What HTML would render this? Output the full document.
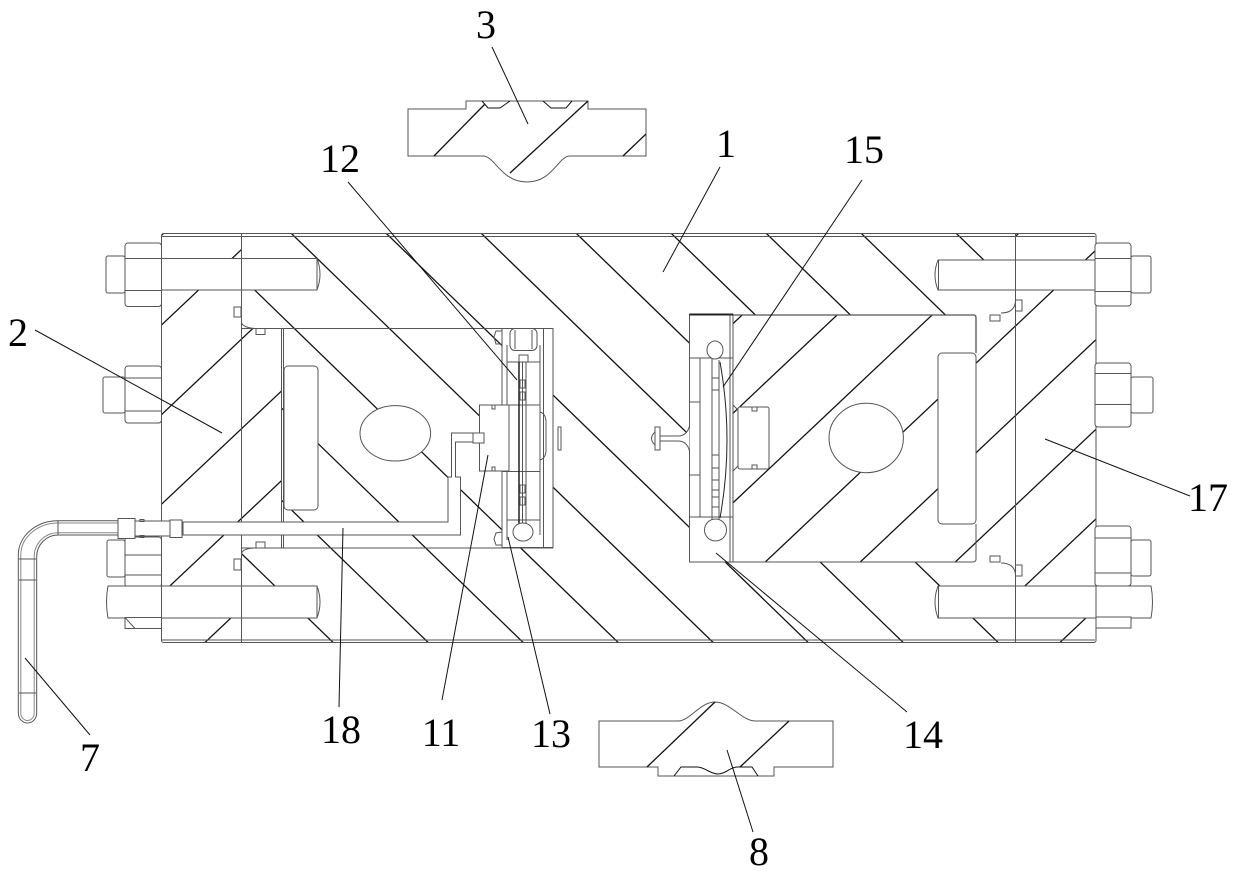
<!DOCTYPE html>
<html><head><meta charset="utf-8"><style>
html,body{margin:0;padding:0;background:#fff;}
svg{display:block;}
text{font-family:"Liberation Serif",serif;font-size:40px;fill:#000;}
</style></head><body>
<svg width="1240" height="875" viewBox="0 0 1240 875" xmlns="http://www.w3.org/2000/svg">
<defs>
<clipPath id="cb"><path clip-rule="evenodd" d="M161.5,234H1096V643H161.5Z M161.5,234 L241.5,234 L241.5,328.5 L281.5,328.5 L281.5,548 L241.5,548 L241.5,643 L161.5,643 Z M1015.5,234 L1096,234 L1096,643 L1015.5,643 L1015.5,586 L976,586 L976,562 L733,562 L733,315 L976,315 L976,290 L1015.5,290 Z"/></clipPath>
<clipPath id="cs"><path d="M161.5,234 L241.5,234 L241.5,328.5 L281.5,328.5 L281.5,548 L241.5,548 L241.5,643 L161.5,643 Z M1015.5,234 L1096,234 L1096,643 L1015.5,643 L1015.5,586 L976,586 L976,562 L733,562 L733,315 L976,315 L976,290 L1015.5,290 Z"/></clipPath>
</defs>
<rect width="1240" height="875" fill="#fff"/>

<!-- backslash hatch (body 1) -->
<g clip-path="url(#cb)" stroke="#111" stroke-width="1.3">
<line x1="-187.2" y1="230" x2="245.9" y2="650"/>
<line x1="-92.2" y1="230" x2="340.9" y2="650"/>
<line x1="2.8" y1="230" x2="435.9" y2="650"/>
<line x1="97.8" y1="230" x2="530.9" y2="650"/>
<line x1="192.8" y1="230" x2="625.9" y2="650"/>
<line x1="287.8" y1="230" x2="720.9" y2="650"/>
<line x1="382.8" y1="230" x2="815.9" y2="650"/>
<line x1="477.8" y1="230" x2="910.9" y2="650"/>
<line x1="572.8" y1="230" x2="1005.9" y2="650"/>
<line x1="667.8" y1="230" x2="1100.9" y2="650"/>
<line x1="762.8" y1="230" x2="1195.9" y2="650"/>
<line x1="857.8" y1="230" x2="1290.9" y2="650"/>
<line x1="952.8" y1="230" x2="1385.9" y2="650"/>
<line x1="1047.8" y1="230" x2="1480.9" y2="650"/>
</g>
<!-- slash hatch (parts 2 and 17) -->
<g clip-path="url(#cs)" stroke="#111" stroke-width="1.3">
<line x1="167.2" y1="230" x2="-278" y2="650"/>
<line x1="262.2" y1="230" x2="-183" y2="650"/>
<line x1="357.2" y1="230" x2="-88" y2="650"/>
<line x1="452.2" y1="230" x2="7" y2="650"/>
<line x1="547.2" y1="230" x2="102" y2="650"/>
<line x1="642.2" y1="230" x2="197" y2="650"/>
<line x1="737.2" y1="230" x2="292" y2="650"/>
<line x1="832.2" y1="230" x2="387" y2="650"/>
<line x1="927.2" y1="230" x2="482" y2="650"/>
<line x1="1022.2" y1="230" x2="577" y2="650"/>
<line x1="1117.2" y1="230" x2="672" y2="650"/>
<line x1="1212.2" y1="230" x2="767" y2="650"/>
<line x1="1307.2" y1="230" x2="862" y2="650"/>
<line x1="1402.2" y1="230" x2="957" y2="650"/>
<line x1="1497.2" y1="230" x2="1052" y2="650"/>
</g>

<g stroke="#555" stroke-width="1" fill="#fff">
<!-- body outline -->
<rect x="161.5" y="233.5" width="934.5" height="409" rx="2" fill="none"/>
<line x1="162" y1="236.5" x2="1095" y2="236.5"/>
<line x1="162" y1="640" x2="1095" y2="640"/>

<!-- left bolts and nuts -->
<path d="M161.5,258.5 H317 Q323,274 317,290 H161.5 Z"/>
<line x1="317" y1="258.5" x2="317" y2="290"/>
<rect x="125" y="243" width="36.5" height="63.5" rx="3"/>
<line x1="125" y1="258.5" x2="161.5" y2="258.5"/><line x1="125" y1="290.5" x2="161.5" y2="290.5"/>
<rect x="106" y="256" width="19" height="37" rx="2"/>

<rect x="125" y="366" width="36.5" height="57" rx="3"/>
<line x1="125" y1="378" x2="161.5" y2="378"/><line x1="125" y1="411" x2="161.5" y2="411"/>
<rect x="103" y="377" width="22" height="36" rx="2"/>

<rect x="125" y="537" width="36.5" height="50" rx="3"/>
<line x1="125" y1="555" x2="161.5" y2="555"/><line x1="125" y1="575" x2="161.5" y2="575"/>
<rect x="107" y="540" width="18" height="37" rx="2"/>

<path d="M108,586 H317 Q323,602 317,618 H108 Q105,602 108,586 Z"/>
<line x1="317" y1="586" x2="317" y2="618"/>
<line x1="161.5" y1="586" x2="161.5" y2="618"/>
<rect x="125" y="617.5" width="36.5" height="11"/>
<line x1="125" y1="617.5" x2="135" y2="628.5"/>

<!-- right bolts and nuts -->
<path d="M938,260 H1096 V290 H938 Q932,275 938,260 Z"/>
<line x1="938.5" y1="260" x2="938.5" y2="290"/>
<rect x="1095" y="243" width="36" height="63" rx="3"/>
<line x1="1095" y1="258.5" x2="1131" y2="258.5"/><line x1="1095" y1="291.5" x2="1131" y2="291.5"/>
<rect x="1131" y="256" width="20" height="37" rx="2"/>

<rect x="1095" y="363" width="36" height="64" rx="3"/>
<line x1="1095" y1="373.5" x2="1131" y2="373.5"/><line x1="1095" y1="404.5" x2="1131" y2="404.5"/>
<rect x="1131" y="377" width="22" height="36" rx="2"/>

<rect x="1095" y="526" width="36" height="60" rx="3"/>
<line x1="1095" y1="538" x2="1131" y2="538"/><line x1="1095" y1="573" x2="1131" y2="573"/>
<rect x="1131" y="540" width="20" height="36" rx="2"/>

<path d="M938,586 H1151 Q1154,602 1151,618 H938 Q932,602 938,586 Z"/>
<line x1="938.5" y1="586" x2="938.5" y2="618"/>
<line x1="1096" y1="586" x2="1096" y2="618"/>
<rect x="1096" y="617" width="35" height="11"/>

<!-- end plate boundaries -->
<line x1="241.5" y1="234" x2="241.5" y2="643" fill="none"/>
<line x1="1015.5" y1="234" x2="1015.5" y2="643" fill="none"/>

<!-- left cell -->
<line x1="241.5" y1="328.5" x2="553" y2="328.5"/>
<line x1="241.5" y1="548" x2="553" y2="548"/>
<line x1="281.5" y1="328.5" x2="281.5" y2="548"/>
<line x1="283.5" y1="328.5" x2="283.5" y2="548"/>
<rect x="284" y="366" width="34" height="144" rx="4"/>
<ellipse cx="395.3" cy="433.3" rx="35.3" ry="27.7"/>
<path d="M183,522 L448,522 L448,477 L451.5,477 L451.5,433 L473,433 L473,442 L455.5,442 L455.5,477 L460.5,477 L460.5,535 L183,535 Z"/>
<rect x="234" y="307" width="7" height="10" fill="none"/>
<rect x="256" y="328.5" width="9" height="6" fill="none"/>
<rect x="256" y="542" width="9" height="6" fill="none"/>
<rect x="234" y="559" width="7" height="11" fill="none"/>
<path d="M241.5,323 Q244,328 256,328.5" fill="none"/>
<path d="M241.5,553 Q244,548 256,548" fill="none"/>

<!-- left sensor housing -->
<rect x="502" y="328.5" width="51" height="219"/>
<line x1="507" y1="345" x2="507" y2="540"/>
<line x1="540" y1="345" x2="540" y2="535"/>
<line x1="543.5" y1="328.5" x2="543.5" y2="547.5"/>
<rect x="510" y="328.5" width="27" height="22" rx="5"/>
<line x1="515" y1="330" x2="515" y2="349"/><line x1="532" y1="330" x2="532" y2="349"/>
<line x1="507" y1="362" x2="540" y2="362"/>
<line x1="502" y1="405" x2="540" y2="405"/>
<line x1="502" y1="471.5" x2="540" y2="471.5"/>
<line x1="507" y1="520" x2="540" y2="520"/>
<rect x="519" y="355" width="9" height="7"/>
<line x1="519" y1="362" x2="519" y2="525" stroke="#222" stroke-width="1.5"/>
<line x1="522.5" y1="362" x2="522.5" y2="525"/>
<line x1="526" y1="362" x2="526" y2="525"/>
<rect x="520" y="380" width="5" height="8" fill="none"/>
<rect x="520" y="392" width="5" height="8" fill="none"/>
<rect x="520" y="485" width="5" height="8" fill="none"/>
<rect x="520" y="497" width="5" height="8" fill="none"/>
<path d="M540,412 Q546,414 546,422 L546,450 Q546,458 540,460" fill="none"/>
<ellipse cx="523" cy="532" rx="10" ry="9"/>
<rect x="558" y="427" width="3" height="23" fill="none"/>
<path d="M502,331 L496,331 L494,337 L496,344 L502,344" fill="none"/>
<path d="M502,532 L496,533 L494,539 L496,545 L502,545" fill="none"/>
<rect x="479.5" y="405" width="29.5" height="66"/>
<rect x="492" y="405" width="3" height="4" fill="none"/>
<rect x="492" y="467" width="3" height="4" fill="none"/>
<rect x="473" y="433" width="11" height="10"/>
<line x1="509" y1="405" x2="509" y2="471.5"/>

<!-- right cell -->
<path d="M733,315 L974,315 Q976,315 976,318 L976,353" fill="none" stroke-width="1.3"/>
<path d="M976,524 L976,559 Q976,562 973,562 L733,562" fill="none"/>
<rect x="938" y="353" width="38" height="171" rx="4"/>
<ellipse cx="866.2" cy="438" rx="37.2" ry="34.7"/>
<rect x="990" y="315" width="10" height="6" fill="none"/>
<rect x="1015.5" y="300" width="6.5" height="11" fill="none"/>
<rect x="990" y="556" width="10" height="6" fill="none"/>
<rect x="1015.5" y="565" width="6.5" height="11" fill="none"/>
<path d="M1001,313 Q1014,313 1015.5,302" fill="none"/>
<path d="M1001,563 Q1014,563 1015.5,574" fill="none"/>

<!-- right sensor -->
<rect x="689.5" y="314.5" width="43.5" height="247.5"/>
<line x1="689.5" y1="314.5" x2="733" y2="314.5" stroke="#222" stroke-width="2"/>
<line x1="700" y1="358" x2="700" y2="517"/>
<line x1="712" y1="355" x2="712" y2="525"/>
<line x1="719" y1="360" x2="719" y2="520"/>
<line x1="730" y1="314.5" x2="730" y2="562"/>
<line x1="689.5" y1="358" x2="733" y2="358"/>
<line x1="689.5" y1="402" x2="700" y2="402"/>
<line x1="689.5" y1="475" x2="700" y2="475"/>
<line x1="689.5" y1="517" x2="733" y2="517"/>
<path d="M720,362 Q734,440 720,518" fill="none" stroke="#222"/>
<rect x="712" y="378" width="7" height="12" fill="none"/>
<rect x="712" y="455" width="7" height="13" fill="none"/>
<rect x="712" y="480" width="7" height="10" fill="none"/>
<rect x="712" y="497" width="7" height="10" fill="none"/>
<ellipse cx="715" cy="350" rx="8" ry="9"/>
<ellipse cx="715.5" cy="530" rx="11" ry="11"/>
<path d="M689.5,426 Q687,436 678,436 L660,436 L660,441 L678,441 Q687,441 689.5,451"/>
<rect x="655" y="427" width="5" height="23"/>
<path d="M655,432 Q648,438.5 655,445" fill="none"/>
<path d="M733,405 L738,410 M733,471 L738,466" fill="none"/>
<rect x="738" y="407" width="31" height="62" rx="2"/>
<rect x="752" y="407" width="5" height="4" fill="none"/>
<rect x="752" y="465" width="5" height="4" fill="none"/>

<!-- cable 7 and fitting -->
<path d="M118,520.7 L58,520.7 A39.7,34.3 0 0 0 18.3,555 L18.3,713 A9.2,10 0 0 0 36.7,713 L36.7,556.7 A21.3,21.7 0 0 1 58,535 L118,535 Z"/>
<path d="M118,523 L58,523 A37.5,32 0 0 0 20.8,555 L20.8,713 A6.7,7.5 0 0 0 34.2,713 L34.2,556.7 A23.8,24 0 0 1 58,532.7 L118,532.7" fill="none" stroke="#888"/>
<line x1="58" y1="521" x2="58" y2="535"/>
<line x1="19" y1="559" x2="36" y2="559"/>
<line x1="19" y1="580" x2="36" y2="580"/>
<line x1="19" y1="693" x2="36" y2="693"/>
<rect x="135" y="521" width="35" height="15"/>
<rect x="140" y="519.5" width="4" height="2" fill="none"/>
<rect x="140" y="535.5" width="4" height="2" fill="none"/>
<rect x="118" y="518.5" width="17" height="20"/>
<rect x="170" y="520" width="12" height="17.5"/>

<!-- part 3 -->
<path d="M408,109 L466,109 L466,101 L588,101 L588,109 L646,109 L646,156 L570,156 C558,156 553,182 527,182 C501,182 495,156 483,156 L408,156 Z"/>
<path d="M482,101 L488,108 L500,108 L510,101" fill="none" stroke="#111"/>
<path d="M543,101 L551,108 L566,108 L572,101" fill="none" stroke="#111"/>

<!-- part 8 -->
<path d="M599,721 L678,721 C690,721 700,702 715,702 C730,702 742,721 755,721 L833,721 L833,767 L774,767 L774,776 L658,776 L658,767 L599,767 Z"/>
<path d="M674,776 L681,767 L697,767 C705,767 710,774 718,774 C726,774 730,767 737,767 L752,767 L758,776" fill="none" stroke="#111"/>
</g>

<!-- hatch on parts 3 and 8 -->
<g stroke="#111" stroke-width="1.3">
<line x1="434" y1="156" x2="485" y2="104"/>
<line x1="510" y1="173" x2="588" y2="101"/>
<line x1="623" y1="156" x2="646" y2="134"/>
<line x1="647" y1="767" x2="715" y2="702"/>
<line x1="740" y1="767" x2="789" y2="721"/>
</g>

<!-- leaders -->
<g stroke="#111" stroke-width="1">
<line x1="492" y1="47" x2="528" y2="124"/>
<line x1="720" y1="167" x2="663" y2="272"/>
<line x1="348" y1="182" x2="517" y2="380"/>
<line x1="862" y1="180" x2="723" y2="387"/>
<line x1="35" y1="330" x2="222" y2="433"/>
<line x1="1045" y1="439" x2="1190" y2="496"/>
<line x1="25" y1="658" x2="90" y2="735"/>
<line x1="343" y1="528" x2="339" y2="707"/>
<line x1="488" y1="455" x2="442" y2="700"/>
<line x1="508" y1="537" x2="550" y2="714"/>
<line x1="716" y1="553" x2="907" y2="712"/>
<line x1="727" y1="750" x2="753" y2="832"/>
</g>

<!-- labels -->
<g text-anchor="middle">
<text x="486" y="38">3</text>
<text x="726" y="157">1</text>
<text x="340" y="172">12</text>
<text x="864" y="163">15</text>
<text x="18" y="346">2</text>
<text x="1208" y="511">17</text>
<text x="341" y="743">18</text>
<text x="441" y="746">11</text>
<text x="551" y="747">13</text>
<text x="923" y="748">14</text>
<text x="90" y="771">7</text>
<text x="759" y="865">8</text>
</g>
</svg>
</body></html>
